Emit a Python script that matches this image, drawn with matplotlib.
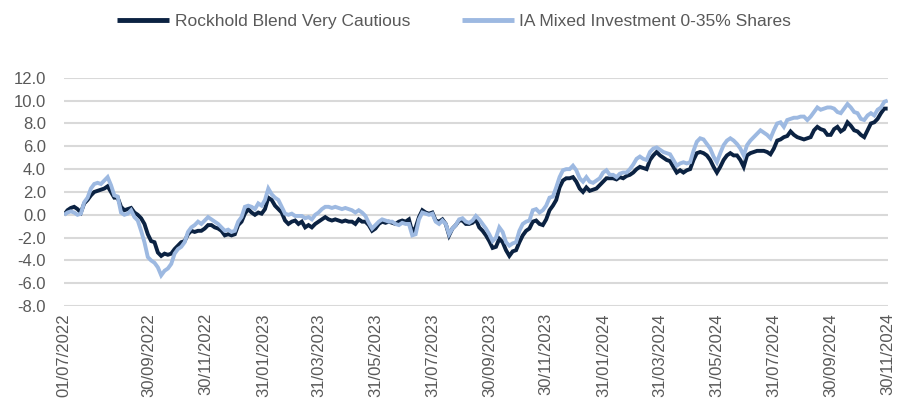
import matplotlib
matplotlib.use("Agg")
import matplotlib.pyplot as plt
import pandas as pd

# cumulative performance (%), sampled at even steps from 01/07/2022 to 30/11/2024
ROCKHOLD = [
    0, 0.4, 0.6, 0.7, 0.5, 0.2, 1.0, 1.3, 1.7, 2.0,
    2.1, 2.2, 2.3, 2.5, 2.0, 1.5, 1.5, 0.7, 0.4, 0.5,
    0.6, 0.2, 0, -0.3, -0.8, -1.7, -2.3, -2.4, -3.3, -3.6,
    -3.4, -3.5, -3.4, -3.0, -2.7, -2.4, -2.3, -1.7, -1.4, -1.5,
    -1.4, -1.4, -1.2, -0.9, -0.9, -1.1, -1.2, -1.4, -1.8, -1.7,
    -1.8, -1.7, -0.9, -0.6, 0.1, 0.5, 0.2, 0, 0.2, 0.1,
    0.5, 1.5, 1.3, 0.8, 0.5, 0.2, -0.5, -0.8, -0.6, -0.5,
    -0.8, -0.6, -1.1, -0.9, -1.1, -0.8, -0.6, -0.4, -0.2, -0.4,
    -0.5, -0.4, -0.5, -0.6, -0.5, -0.6, -0.6, -0.8, -0.4, -0.6,
    -0.6, -0.9, -1.4, -1.2, -0.8, -0.6, -0.7, -0.6, -0.7, -0.8,
    -0.6, -0.5, -0.6, -0.4, -1.5, -1.1, -0.2, 0.4, 0.2, 0.1,
    0.2, -0.5, -0.6, -0.4, -0.8, -1.8,
    -1.2, -0.9, -0.5, -0.5, -0.8, -0.8, -0.7, -0.4, -1.1, -1.4,
    -1.8, -2.3, -2.9, -2.8, -2.1, -2.4, -3.1, -3.6, -3.2, -3.1,
    -2.4, -1.8, -1.4, -1.2, -0.6, -0.5, -0.8, -0.9, -0.4, 0.4,
    0.8, 1.3, 2.4, 3.0, 3.2, 3.2, 3.3, 2.9, 2.3, 2.0,
    2.4, 2.1, 2.2, 2.3, 2.6, 2.9, 3.2, 3.2, 3.2, 3.1,
    3.3, 3.2, 3.4, 3.5, 3.7, 4.0, 4.2, 4.1, 4.0, 4.8,
    5.2, 5.5, 5.2, 5.0, 4.8, 4.7, 4.2, 3.7, 3.9, 3.7,
    3.9, 4.0, 4.8, 5.4, 5.5, 5.4, 5.2, 4.8, 4.2, 3.7,
    4.2, 4.8, 5.2, 5.4, 5.2, 5.2, 4.8, 4.2, 5.2, 5.4,
    5.5, 5.6, 5.6, 5.6, 5.5, 5.3, 5.8, 6.5, 6.6, 6.8,
    6.9, 7.3, 7.0, 6.8, 6.7, 6.6, 6.7, 6.8, 7.4, 7.7,
    7.5, 7.4, 7.0, 7.0, 7.5, 7.7, 7.3, 7.5, 8.1, 7.8,
    7.4, 7.3, 7.0, 6.8, 7.4, 8.0, 8.1, 8.4, 8.9, 9.3, 9.3,
]

IA_MIXED = [
    0, 0.2, 0.3, 0.2, 0, 0.1, 1.1, 1.5, 2.3, 2.7,
    2.8, 2.7, 3.0, 3.3, 2.6, 1.7, 1.6, 0.2, 0, 0.1,
    0.4, -0.2, -0.5, -1.4, -2.4, -3.7, -4.0, -4.2, -4.6, -5.3,
    -4.9, -4.7, -4.3, -3.4, -3.0, -2.8, -2.4, -1.5, -1.1, -0.9,
    -0.6, -0.8, -0.5, -0.2, -0.4, -0.6, -0.8, -1.1, -1.4, -1.3,
    -1.5, -1.4, -0.6, -0.2, 0.7, 0.8, 0.7, 0.5, 1.0, 0.8,
    1.3, 2.3, 1.8, 1.5, 1.3, 0.7, 0.1, 0, 0.1, -0.1,
    -0.1, -0.1, -0.3, -0.2, -0.4, 0, 0.2, 0.5, 0.7, 0.7,
    0.6, 0.7, 0.6, 0.5, 0.6, 0.5, 0.4, 0.2, 0.4, 0.2,
    -0.1, -0.7, -1.2, -0.9, -0.6, -0.4, -0.5, -0.6, -0.6, -0.8,
    -0.9, -0.7, -0.8, -0.8, -1.8, -1.7, -0.4, 0.2, 0.1, 0,
    0.1, -0.6, -0.8, -0.5, -0.8, -1.7,
    -1.2, -0.9, -0.4, -0.3, -0.6, -0.7, -0.5, -0.1, -0.4, -0.8,
    -1.2, -1.7, -2.3, -2.0, -1.1, -1.5, -2.4, -2.7, -2.5, -2.4,
    -1.4, -0.8, -0.6, -0.5, 0.4, 0.5, 0.2, 0.4, 0.8, 1.5,
    1.6, 2.4, 3.3, 3.9, 4.0, 4.0, 4.3, 3.9, 3.2, 2.9,
    3.3, 2.9, 2.8, 3.0, 3.2, 3.7, 3.9, 3.5, 3.5, 3.3,
    3.6, 3.7, 3.7, 4.0, 4.4, 4.9, 5.1, 4.9, 4.8, 5.5,
    5.8, 5.9, 5.7, 5.5, 5.4, 5.3, 4.8, 4.3, 4.5, 4.6,
    4.5, 4.6, 5.6, 6.4, 6.7, 6.6, 6.2, 5.8, 5.1, 4.6,
    5.4, 6.1, 6.5, 6.7, 6.5, 6.2, 5.8, 5.2, 6.1, 6.5,
    6.8, 7.1, 7.4, 7.2, 7.0, 6.7, 7.4, 8.0, 8.1, 7.7,
    8.3, 8.4, 8.5, 8.5, 8.6, 8.6, 8.3, 8.6, 9.0, 9.4,
    9.2, 9.3, 9.4, 9.4, 9.3, 9.0, 8.9, 9.3, 9.7, 9.4,
    9.0, 8.9, 8.4, 8.3, 8.7, 8.9, 8.7, 9.2, 9.4, 9.9, 10.0,
]

START, END = "2022-07-01", "2024-11-30"
TICK_DATES = [
    "2022-07-01", "2022-09-30", "2022-11-30", "2023-01-31", "2023-03-31",
    "2023-05-31", "2023-07-31", "2023-09-30", "2023-11-30", "2024-01-31",
    "2024-03-31", "2024-05-31", "2024-07-31", "2024-09-30", "2024-11-30",
]
Y_TICKS = [-8, -6, -4, -2, 0, 2, 4, 6, 8, 10, 12]

SERIES = [
    ("Rockhold Blend Very Cautious", ROCKHOLD, "#0B2242"),
    ("IA Mixed Investment 0-35% Shares", IA_MIXED, "#9DB9E1"),
]
TEXT = "#595959"

plt.rcParams["font.family"] = ["Liberation Sans", "DejaVu Sans"]
plt.rcParams["font.size"] = 12

fig = plt.figure(figsize=(9.03, 4.05), dpi=100)
ax = fig.add_axes([0.071, 0.244, 0.912, 0.564])

for label, values, color in SERIES:
    dates = pd.date_range(START, END, periods=len(values))
    ax.plot(dates, values, color=color, linewidth=2.8, label=label,
            solid_capstyle="butt", solid_joinstyle="miter")

ticks = pd.to_datetime(TICK_DATES)
ax.set_xticks(ticks)
ax.set_xticklabels([t.strftime("%d/%m/%Y") for t in ticks], rotation=90,
                   color=TEXT)
ax.set_xlim(pd.Timestamp(START), pd.Timestamp(END))

ax.set_ylim(-8, 12)
ax.set_yticks(Y_TICKS)
ax.set_yticklabels([f"{v:.1f}" for v in Y_TICKS], color=TEXT)

ax.tick_params(axis="y", length=0, pad=13)
ax.tick_params(axis="x", length=0, pad=5)
ax.grid(axis="y", color="#D9D9D9", linewidth=1.5)
ax.set_axisbelow(True)
for side in ax.spines.values():
    side.set_visible(False)

leg = fig.legend(loc="center", bbox_to_anchor=(0.503, 0.946), ncol=2,
                 frameon=False, handlelength=3.0, handletextpad=0.3,
                 columnspacing=3.0, fontsize=12.5)
for line in leg.get_lines():
    line.set_linewidth(3.5)
for text in leg.get_texts():
    text.set_color(TEXT)

fig.savefig("out.png", dpi=100)
